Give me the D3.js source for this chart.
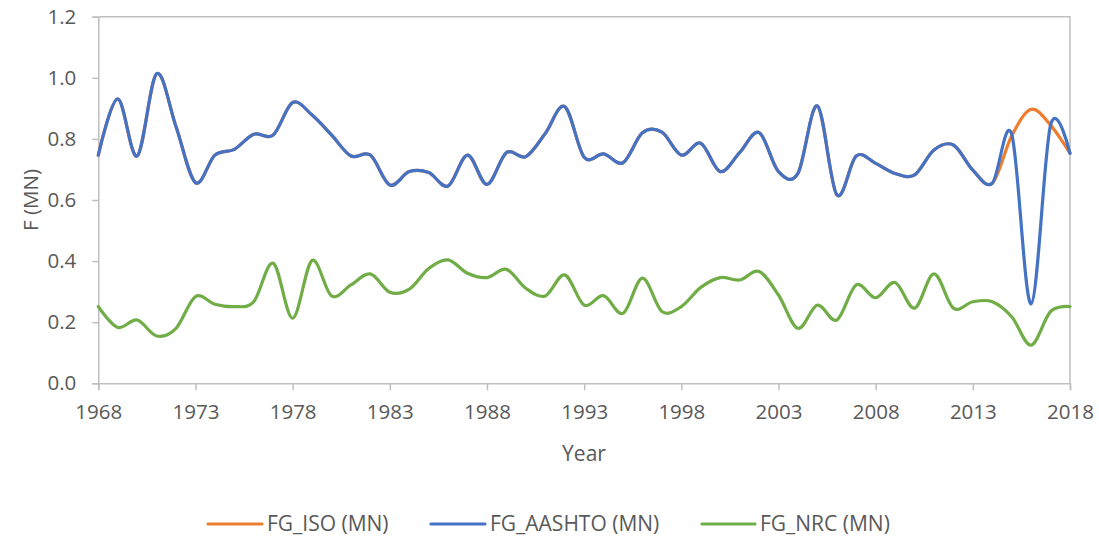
<!DOCTYPE html>
<html>
<head>
<meta charset="utf-8">
<script src="https://cdn.jsdelivr.net/npm/d3@7"></script>
<style>
  html, body { margin: 0; padding: 0; background: #fff; }
  svg { display: block; }
  text { font-family: "Open Sans", "Liberation Sans", sans-serif; fill: #595959; }
</style>
</head>
<body>
<svg id="chart" width="1099" height="540"></svg>
<script>
const years = d3.range(1968, 2019);
const xTickYears = [1968, 1973, 1978, 1983, 1988, 1993, 1998, 2003, 2008, 2013, 2018];
const yTicks = [0, 0.2, 0.4, 0.6, 0.8, 1.0, 1.2];

const fgAASHTO = [
  0.747, 0.931, 0.744, 1.013, 0.840, 0.657, 0.747, 0.766, 0.815, 0.813,
  0.919, 0.878, 0.813, 0.744, 0.747, 0.649, 0.693, 0.690, 0.646, 0.747,
  0.651, 0.755, 0.742, 0.818, 0.906, 0.740, 0.751, 0.722, 0.820, 0.822,
  0.747, 0.786, 0.693, 0.755, 0.821, 0.693, 0.687, 0.908, 0.617, 0.744,
  0.720, 0.687, 0.682, 0.764, 0.780, 0.698, 0.655, 0.815, 0.260, 0.845,
  0.753
];
const fgISO = [
  0.747, 0.931, 0.744, 1.013, 0.840, 0.657, 0.747, 0.766, 0.815, 0.813,
  0.919, 0.878, 0.813, 0.744, 0.747, 0.649, 0.693, 0.690, 0.646, 0.747,
  0.651, 0.755, 0.742, 0.818, 0.906, 0.740, 0.751, 0.722, 0.820, 0.822,
  0.747, 0.786, 0.693, 0.755, 0.821, 0.693, 0.687, 0.908, 0.617, 0.744,
  0.720, 0.687, 0.682, 0.764, 0.780, 0.698, 0.655, 0.810, 0.897, 0.845,
  0.753
];
const fgNRC = [
  0.251, 0.183, 0.207, 0.155, 0.180, 0.284, 0.259, 0.251, 0.267, 0.393,
  0.213, 0.402, 0.286, 0.322, 0.358, 0.298, 0.308, 0.376, 0.404, 0.360,
  0.346, 0.373, 0.311, 0.286, 0.355, 0.256, 0.287, 0.229, 0.344, 0.235,
  0.251, 0.314, 0.346, 0.338, 0.366, 0.289, 0.180, 0.256, 0.207, 0.322,
  0.280, 0.330, 0.246, 0.358, 0.246, 0.267, 0.267, 0.218, 0.125, 0.235,
  0.251
];

const seriesNames = ["FG_ISO (MN)", "FG_AASHTO (MN)", "FG_NRC (MN)"];
const seriesColors = ["#ED7D31", "#4472C4", "#70AD47"];
const seriesData = [fgISO, fgAASHTO, fgNRC];

const svg = d3.select("#chart");
const mLeft = 98.3, mRight = 1070, mTop = 16.7, mBottom = 383.3;
const x = d3.scaleLinear().domain([1968, 2018]).range([mLeft, mRight]);
const y = d3.scaleLinear().domain([0, 1.2]).range([mBottom, mTop]);
const axisColor = "#BFBFBF";

// plot area border (top and right)
svg.append("path")
  .attr("d", `M${mLeft},${mTop}H${mRight}V${mBottom}`)
  .attr("fill", "none").attr("stroke", axisColor).attr("stroke-width", 1.5);

// Y axis
const yAxis = svg.append("g").attr("transform", `translate(${mLeft},0)`)
  .call(d3.axisLeft(y).tickValues(yTicks).tickFormat(d3.format(".1f")).tickSize(6).tickPadding(16));
yAxis.select(".domain").attr("stroke", axisColor).attr("stroke-width", 1.5);
yAxis.selectAll(".tick line").attr("stroke", axisColor).attr("stroke-width", 1.5);
yAxis.selectAll(".tick text").attr("font-size", 20.5).attr("fill", "#595959")
  .style("font-family", "'Open Sans', sans-serif");

// X axis
const xAxis = svg.append("g").attr("transform", `translate(0,${mBottom})`)
  .call(d3.axisBottom(x).tickValues(xTickYears).tickFormat(d3.format("d")).tickSize(7).tickPadding(14));
xAxis.select(".domain").attr("stroke", axisColor).attr("stroke-width", 1.5);
xAxis.selectAll(".tick line").attr("stroke", axisColor).attr("stroke-width", 1.5);
xAxis.selectAll(".tick text").attr("font-size", 20.5).attr("fill", "#595959")
  .style("font-family", "'Open Sans', sans-serif");

// axis titles
svg.append("text").attr("x", 584).attr("y", 461).attr("text-anchor", "middle")
  .attr("font-size", 21).text("Year");
svg.append("text").attr("transform", `translate(31,${(mTop + mBottom) / 2}) rotate(-90)`)
  .attr("text-anchor", "middle").attr("dy", "0.35em")
  .attr("font-size", 20.5).text("F (MN)");

// lines
const line = d3.line().x((d, i) => x(years[i])).y(d => y(d)).curve(d3.curveCardinal.tension(0));
seriesData.forEach((data, k) => {
  svg.append("path").datum(data)
    .attr("d", line)
    .attr("fill", "none")
    .attr("stroke", seriesColors[k])
    .attr("stroke-width", 3.2)
    .attr("stroke-linejoin", "round")
    .attr("stroke-linecap", "round");
});

// legend
const legendItems = [
  { x0: 208, x1: 262, tx: 267 },
  { x0: 431, x1: 485, tx: 490 },
  { x0: 702, x1: 755, tx: 760 }
];
legendItems.forEach((it, k) => {
  svg.append("line").attr("x1", it.x0).attr("x2", it.x1).attr("y1", 524).attr("y2", 524)
    .attr("stroke", seriesColors[k]).attr("stroke-width", 3.2).attr("stroke-linecap", "round");
  svg.append("text").attr("x", it.tx).attr("y", 531).attr("font-size", 21).text(seriesNames[k]);
});
</script>
</body>
</html>
